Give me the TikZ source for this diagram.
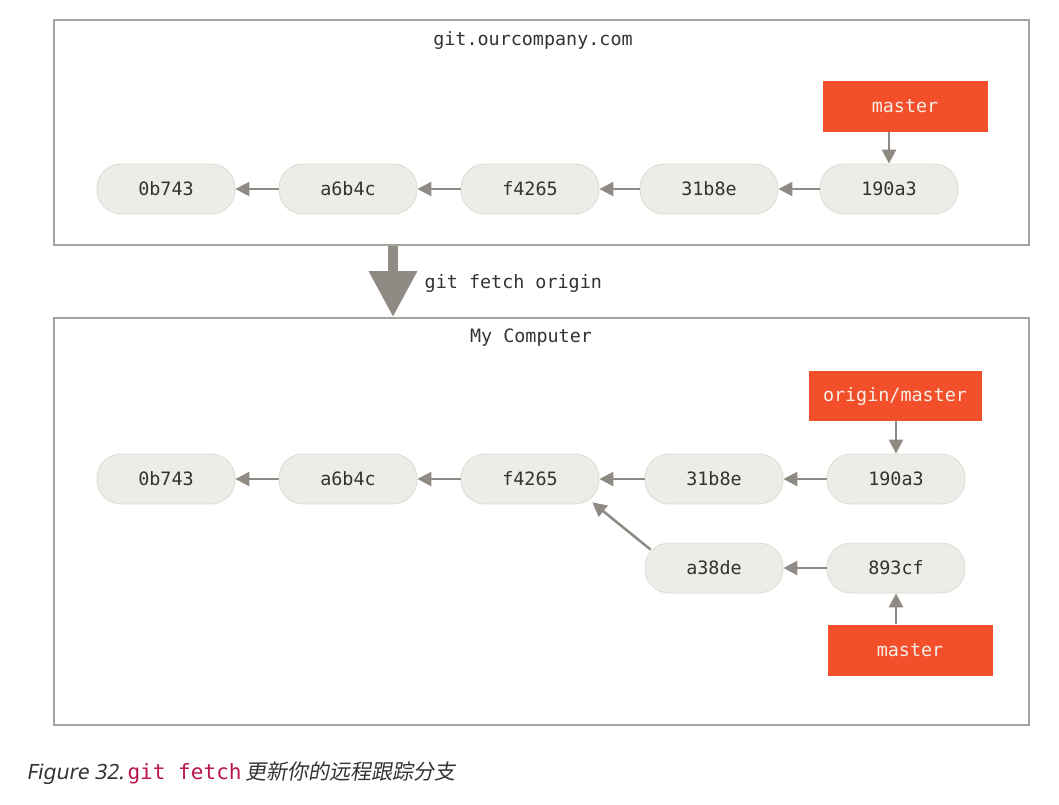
\documentclass[tikz,border=0pt]{standalone}
\usepackage{fontspec}
\setmonofont{DejaVu Sans Mono}
\newfontfamily\capfont[FakeSlant=0.18]{Noto Sans}
\newfontfamily\cjk[FakeSlant=0.18]{Noto Sans CJK SC}
\usepackage{tikz}
\usetikzlibrary{positioning, arrows.meta, calc}

\definecolor{commitfill}{HTML}{EDECE6}
\definecolor{commitline}{HTML}{DCDAD3}
\definecolor{arrowgray}{HTML}{8F8A84}
\definecolor{framegray}{HTML}{A6A29C}
\definecolor{branchred}{HTML}{F34F2A}
\definecolor{branchtext}{HTML}{F5EFE8}
\definecolor{textdark}{HTML}{333333}
\definecolor{codered}{HTML}{B8164A}

\begin{document}
\begin{tikzpicture}[
        x=0.75pt, y=-0.75pt,
        % Define node styles
        commit/.style={draw=commitline, line width=0.6pt, fill=commitfill, rounded corners=18pt, minimum width=103.5pt, minimum height=37.5pt, inner sep=0pt, font=\ttfamily\fontsize{13.8}{16}\selectfont, text=textdark},
        branch/.style={fill=branchred, minimum width=123.75pt, minimum height=38.25pt, inner sep=0pt, font=\ttfamily\fontsize{13.8}{16}\selectfont, text=branchtext},
        frame/.style={draw=framegray, line width=1.5pt, inner sep=0pt},
        title/.style={font=\ttfamily\fontsize{13.8}{16}\selectfont, text=textdark},
        parent/.style={draw=arrowgray, line width=1.9pt, -{Triangle[length=10.5pt, width=10.5pt]}},
        bigarrow/.style={draw=arrowgray, line width=7.5pt, -{Triangle[length=34.5pt, width=34.5pt]}}
    ]
    \useasboundingbox (0,0) rectangle (1059,804);

    % --- Frames ---
    \node[frame, minimum width=731.25pt, minimum height=168.75pt] (remote) at (541.5,132.5) {};
    \node[frame, minimum width=731.25pt, minimum height=305.25pt] (local) at (541.5,521.5) {};
    \node[title] (remotetitle) at (533,40) {git.ourcompany.com};
    \node[title] (localtitle) at (531,338) {My Computer};

    % --- Remote commits ---
    \node[commit] (r0b743) at (166,189) {0b743};
    \node[commit] (ra6b4c) at (348,189) {a6b4c};
    \node[commit] (rf4265) at (530,189) {f4265};
    \node[commit] (r31b8e) at (709,189) {31b8e};
    \node[commit] (r190a3) at (889,189) {190a3};
    \node[branch] (rmaster) at (905,106) {master};

    % --- Local commits ---
    \node[commit] (l0b743) at (166,479) {0b743};
    \node[commit] (la6b4c) at (348,479) {a6b4c};
    \node[commit] (lf4265) at (530,479) {f4265};
    \node[commit] (l31b8e) at (714,479) {31b8e};
    \node[commit] (l190a3) at (896,479) {190a3};
    \node[commit] (la38de) at (714,568) {a38de};
    \node[commit] (l893cf) at (896,568) {893cf};
    \node[branch, minimum width=129.75pt, minimum height=37.5pt] (lorigin) at (895,396) {origin/master};
    \node[branch] (lmaster) at (910,650) {master};

    % --- Fetch arrow ---
    \draw[bigarrow] ($(remote.south west)+(340,0)$) -- ($(local.north west)+(340,0)$);
    \node[title, anchor=west] (fetchlabel) at (420,283) {git fetch origin};

    % --- Remote history ---
    \draw[parent] (ra6b4c) -- (r0b743);
    \draw[parent] (rf4265) -- (ra6b4c);
    \draw[parent] (r31b8e) -- (rf4265);
    \draw[parent] (r190a3) -- (r31b8e);
    \draw[parent] (rmaster.south -| r190a3.north) -- (r190a3.north);

    % --- Local history ---
    \draw[parent] (la6b4c) -- (l0b743);
    \draw[parent] (lf4265) -- (la6b4c);
    \draw[parent] (l31b8e) -- (lf4265);
    \draw[parent] (l190a3) -- (l31b8e);
    \draw[parent] (l893cf) -- (la38de);
    \draw[parent] ($(la38de.north west)+(6,7)$) -- ($(lf4265.south east)+(-7,-2)$);
    \draw[parent] (lorigin.south -| l190a3.north) -- (l190a3.north);
    \draw[parent] (lmaster.north -| l893cf.south) -- (l893cf.south);

    % --- Caption ---
    \node[anchor=west, inner sep=0pt, text=textdark, font=\fontsize{15.8}{18}\selectfont] (caption) at (26,773)
        {{\capfont Figure 32.}\,{\ttfamily\color{codered}git fetch}\,{\cjk 更新你的远程跟踪分支}};
\end{tikzpicture}
\end{document}
